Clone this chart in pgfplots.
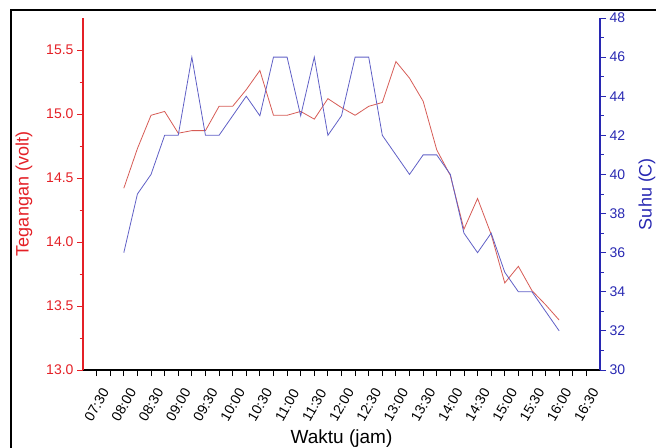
\documentclass[border=0pt]{standalone}
\usepackage{pgfplots}
\usepackage{pgfplotstable}
\pgfplotsset{compat=1.18}
\usepackage{fontspec}
\setmainfont{Liberation Sans}
\definecolor{axred}{RGB}{228,32,38}
\definecolor{linered}{RGB}{214,92,86}
\definecolor{axblue}{RGB}{40,40,178}
\definecolor{lineblue}{RGB}{96,96,198}

\pgfplotstableread{
t V T
8.00 14.42 36
8.25 14.73 39
8.50 14.99 40
8.75 15.02 42
9.00 14.85 42
9.25 14.87 46
9.50 14.87 42
9.75 15.06 42
10.00 15.06 43
10.25 15.19 44
10.50 15.34 43
10.75 14.99 46
11.00 14.99 46
11.25 15.02 43
11.50 14.96 46
11.75 15.12 42
12.00 15.05 43
12.25 14.99 46
12.50 15.06 46
12.75 15.09 42
13.00 15.41 41
13.25 15.28 40
13.50 15.10 41
13.75 14.72 41
14.00 14.52 40
14.25 14.10 37
14.50 14.34 36
14.75 14.06 37
15.00 13.68 35
15.25 13.81 34
15.50 13.62 34
15.75 13.51 33
16.00 13.39 32
}\data

\begin{document}
\begin{tikzpicture}
\path[use as bounding box] (0bp,0bp) rectangle (656bp,448bp);
\draw[line width=2.5bp] (11bp,-2bp) -- (11bp,438bp) -- (660bp,438bp);
\pgfplotsset{
  common/.style={
    at={(83bp,78bp)}, anchor=south west,
    scale only axis, width=517bp, height=352bp,
    xmin=7.25, xmax=16.75,
    tick align=outside,
    major tick length=6bp, minor tick length=3.5bp,
    tick label style={font=\fontsize{14bp}{16bp}\selectfont},
    /pgf/number format/assume math mode=true,
    label style={font=\fontsize{18bp}{20bp}\selectfont},
    clip=false,
  }
}
\begin{axis}[common,
  ymin=13, ymax=15.75,
  axis x line*=bottom, axis y line*=left,
  x axis line style={black, line width=1.3bp},
  y axis line style={axred, line width=1.3bp},
  xtick={7.5,7.75,...,16.5},
  xticklabels={07:30,,08:00,,08:30,,09:00,,09:30,,10:00,,10:30,,11:00,,11:30,,12:00,,12:30,,13:00,,13:30,,14:00,,14:30,,15:00,,15:30,,16:00,,16:30},
  x tick style={black, line width=0.9bp},
  xticklabel style={anchor=center, yshift=-29bp, rotate=60},
  ytick={13,13.5,...,15.5},
  minor y tick num=1,
  y tick style={axred, line width=0.9bp},
  yticklabel style={axred, /pgf/number format/.cd, fixed, fixed zerofill, precision=1},
  ylabel={Tegangan (volt)},
  ylabel style={axred, at={(axis description cs:-0.114,0.5)}, anchor=center},
  xlabel={Waktu (jam)},
  xlabel style={black, font=\fontsize{19bp}{21bp}\selectfont, at={(axis description cs:0.5,-0.195)}, anchor=center},
]
\addplot[linered, line width=0.8bp] table[x=t, y=V] {\data};
\end{axis}
\begin{axis}[common,
  ymin=30, ymax=48,
  axis x line=none, axis y line*=right,
  y axis line style={axblue, line width=1.3bp},
  ytick={30,32,...,48},
  minor y tick num=1,
  y tick style={axblue, line width=0.9bp},
  yticklabel style={axblue},
  ylabel={Suhu (C)},
  ylabel style={axblue, at={(axis description cs:1.091,0.5)}, anchor=center, rotate=0},
]
\addplot[lineblue, line width=0.8bp] table[x=t, y=T] {\data};
\end{axis}
\end{tikzpicture}
\end{document}
